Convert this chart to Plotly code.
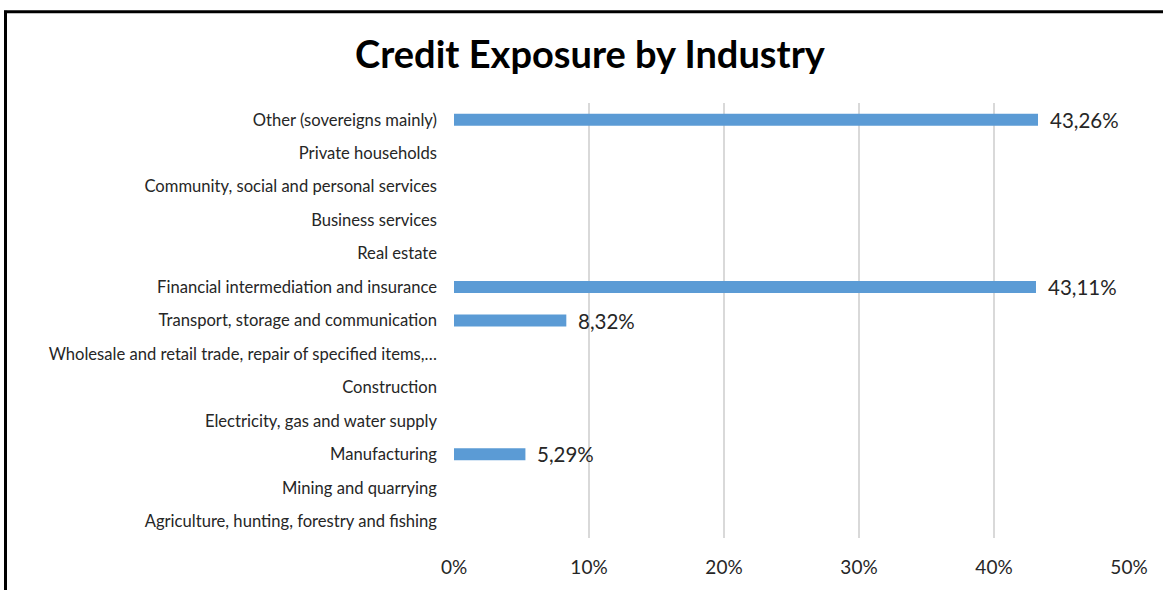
import plotly.graph_objects as go

# Industry categories (bottom to top as drawn)
industries = [
    "Agriculture, hunting, forestry and fishing",
    "Mining and quarrying",
    "Manufacturing",
    "Electricity, gas and water supply",
    "Construction",
    "Wholesale and retail trade, repair of specified items,…",
    "Transport, storage and communication",
    "Financial intermediation and insurance",
    "Real estate",
    "Business services",
    "Community, social and personal services",
    "Private households",
    "Other (sovereigns mainly)",
]
# Share of credit exposure, percent
exposure_pct = [0, 0, 5.29, 0, 0, 0, 8.32, 43.11, 0, 0, 0, 0, 43.26]

x_ticks = [0, 0.1, 0.2, 0.3, 0.4, 0.5]
x_tick_labels = ["0%", "10%", "20%", "30%", "40%", "50%"]

W, H = 1163, 590
L, R, T, B = 454, 34, 103, 49
plot_w = W - L - R
plot_h = H - T - B

shares = [v / 100 for v in exposure_pct]

fig = go.Figure(
    go.Bar(
        x=shares,
        y=industries,
        orientation="h",
        marker=dict(color="#5B9BD5", line=dict(width=0)),
        hoverinfo="skip",
    )
)

# Value labels beside each non-empty bar (comma as decimal separator)
for name, v in zip(industries, exposure_pct):
    if v > 0:
        fig.add_annotation(
            x=v / 100, y=name, xref="x", yref="y",
            text=f"{v:.2f}%".replace(".", ","),
            showarrow=False, xanchor="left", yanchor="middle",
            xshift=10,
            font=dict(family="Lato", size=20.5, color="#262626"),
        )

# Frame lines along the left and top edges of the chart
def px_to_paper_x(px):
    return (px - L) / plot_w

def px_to_paper_y(py):
    return (H - B - py) / plot_h

fig.add_shape(type="line", xref="paper", yref="paper",
              x0=px_to_paper_x(5.5), x1=px_to_paper_x(5.5),
              y0=px_to_paper_y(10), y1=px_to_paper_y(H + 5),
              line=dict(color="black", width=3))
fig.add_shape(type="line", xref="paper", yref="paper",
              x0=px_to_paper_x(4), x1=px_to_paper_x(W + 5),
              y0=px_to_paper_y(11), y1=px_to_paper_y(11),
              line=dict(color="black", width=3))

fig.update_layout(
    width=W, height=H,
    margin=dict(l=L, r=R, t=T, b=B),
    paper_bgcolor="white", plot_bgcolor="white",
    bargap=0.64,
    showlegend=False,
    title=dict(
        text="<b>Credit Exposure by Industry</b>",
        x=590 / W, xanchor="center",
        y=1 - 55 / H, yanchor="middle",
        font=dict(family="Lato", size=38, color="black"),
    ),
    xaxis=dict(
        range=[0, 0.5],
        tickvals=x_ticks, ticktext=x_tick_labels,
        showgrid=True, gridcolor="#D9D9D9", gridwidth=2,
        zeroline=False, showline=False,
        ticks="", ticklabelstandoff=16,
        tickfont=dict(family="Lato", size=19, color="#262626"),
        fixedrange=True,
    ),
    yaxis=dict(
        categoryorder="array", categoryarray=industries,
        range=[-0.5, len(industries) - 0.5],
        showgrid=False, zeroline=False, showline=False,
        ticks="", ticklabelstandoff=16,
        tickfont=dict(family="Lato", size=16.6, color="#262626"),
        fixedrange=True,
    ),
)

fig.write_html("out.html")
